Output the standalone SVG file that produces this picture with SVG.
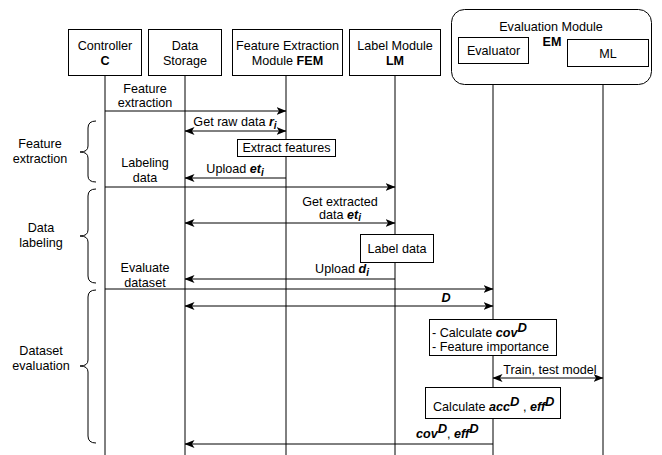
<svg xmlns="http://www.w3.org/2000/svg" width="662" height="455" viewBox="0 0 662 455">
  <style>
    text { font-family: "Liberation Sans", Arial, sans-serif; font-size: 12.6px; fill: #000; }
    .c { text-anchor: middle; }
    .b { font-weight: bold; }
    .bi { font-weight: bold; font-style: italic; }
    .sub { font-size: 10px; }
    .sup { font-size: 13px; }
    .box { fill: #fff; stroke: #000; stroke-width: 1; }
    .life { stroke: #000; stroke-width: 1; fill: none; }
    .msg { stroke: #000; stroke-width: 1; fill: none; }
    .one { marker-end: url(#arr); }
    .two { marker-start: url(#arr); marker-end: url(#arr); }
    .brace { stroke: #000; stroke-width: 1; fill: none; }
  </style>
  <defs>
    <marker id="arr" viewBox="0 0 10 8" refX="9.5" refY="4" markerWidth="10" markerHeight="8" markerUnits="userSpaceOnUse" orient="auto-start-reverse">
      <path d="M0,0 L10,4 L0,8 L2.5,4 z" fill="#000"/>
    </marker>
  </defs>

  <rect width="662" height="455" fill="#fff"/>

  <!-- lifelines -->
  <g id="lifelines">
    <line class="life" x1="105" y1="76" x2="105" y2="455"/>
    <line class="life" x1="185" y1="76" x2="185" y2="455"/>
    <line class="life" x1="286" y1="76" x2="286" y2="455"/>
    <line class="life" x1="395" y1="76" x2="395" y2="455"/>
    <line class="life" x1="493" y1="63" x2="493" y2="455"/>
    <line class="life" x1="603" y1="66" x2="603" y2="455"/>
  </g>

  <!-- participants -->
  <g id="controller">
    <rect class="box" x="68.5" y="29.5" width="73" height="46"/>
    <text class="c" x="105" y="50">Controller</text>
    <text class="c b" x="105" y="65">C</text>
  </g>
  <g id="data-storage">
    <rect class="box" x="148.5" y="29.5" width="73" height="46"/>
    <text class="c" x="185" y="50">Data</text>
    <text class="c" x="185" y="65">Storage</text>
  </g>
  <g id="fem">
    <rect class="box" x="232.5" y="29.5" width="110" height="46"/>
    <text class="c" x="287.5" y="50">Feature Extraction</text>
    <text class="c" x="287.5" y="65">Module <tspan class="b">FEM</tspan></text>
  </g>
  <g id="lm">
    <rect class="box" x="349.5" y="29.5" width="91" height="46"/>
    <text class="c" x="395" y="50">Label Module</text>
    <text class="c b" x="395" y="65">LM</text>
  </g>
  <g id="em">
    <rect class="box" x="451.5" y="9.5" width="200" height="75" rx="13" ry="13"/>
    <text class="c" x="551" y="31">Evaluation Module</text>
    <text class="c b" x="552" y="46">EM</text>
  </g>
  <g id="evaluator">
    <rect class="box" x="458.5" y="37.5" width="70" height="26"/>
    <text class="c" x="493.5" y="55">Evaluator</text>
  </g>
  <g id="ml">
    <rect class="box" x="567.5" y="39.5" width="81" height="27"/>
    <text class="c" x="608" y="58">ML</text>
  </g>

  <!-- phase braces -->
  <g id="phase-feature-extraction">
    <path class="brace" d="M96,121 Q88,121 88,128 L88,146 Q88,152 80,152 Q88,152 88,158 L88,176 Q88,182 96,182"/>
    <text class="c" x="40" y="148">Feature</text>
    <text class="c" x="40" y="163">extraction</text>
  </g>
  <g id="phase-data-labeling">
    <path class="brace" d="M96,189 Q88,189 88,196 L88,230 Q88,236 80,236 Q88,236 88,242 L88,276 Q88,283 96,283"/>
    <text class="c" x="41" y="232">Data</text>
    <text class="c" x="41" y="247">labeling</text>
  </g>
  <g id="phase-dataset-evaluation">
    <path class="brace" d="M96,290 Q88,290 88,297 L88,360 Q88,366 80,366 Q88,366 88,372 L88,436 Q88,443 96,443"/>
    <text class="c" x="41" y="355">Dataset</text>
    <text class="c" x="41" y="370">evaluation</text>
  </g>

  <!-- messages -->
  <g id="connectors">
    <line class="msg one" x1="105" y1="111" x2="286" y2="111"/>
    <line class="msg two" x1="185" y1="131" x2="286" y2="131"/>
    <line class="msg one" x1="286" y1="178" x2="185" y2="178"/>
    <line class="msg one" x1="105" y1="187" x2="395" y2="187"/>
    <line class="msg two" x1="185" y1="223" x2="395" y2="223"/>
    <line class="msg one" x1="395" y1="279" x2="185" y2="279"/>
    <line class="msg one" x1="105" y1="289" x2="493" y2="289"/>
    <line class="msg two" x1="185" y1="306" x2="493" y2="306"/>
    <line class="msg two" x1="493" y1="378" x2="603" y2="378"/>
    <line class="msg one" x1="493" y1="444" x2="185" y2="444"/>
  </g>

  <!-- message labels -->
  <g id="labels">
    <text class="c" x="145" y="93">Feature</text>
    <text class="c" x="145" y="107">extraction</text>
    <text class="c" x="235" y="126">Get raw data <tspan class="bi">r</tspan><tspan class="bi sub" dy="3">i</tspan></text>
    <text class="c" x="235" y="173">Upload <tspan class="bi">et</tspan><tspan class="bi sub" dy="3">i</tspan></text>
    <text class="c" x="145" y="167">Labeling</text>
    <text class="c" x="145" y="182">data</text>
    <text class="c" x="340" y="206">Get extracted</text>
    <text class="c" x="340" y="219">data <tspan class="bi">et</tspan><tspan class="bi sub" dy="2">i</tspan></text>
    <text class="c" x="342" y="273">Upload <tspan class="bi">d</tspan><tspan class="bi sub" dy="3">i</tspan></text>
    <text class="c" x="145" y="272">Evaluate</text>
    <text class="c" x="145" y="287">dataset</text>
    <text class="c bi" x="446" y="302">D</text>
    <text class="c" x="550" y="374">Train, test model</text>
    <text x="416" y="438"><tspan class="bi">cov</tspan><tspan class="bi sup" dy="-5">D</tspan><tspan dy="5">, </tspan><tspan class="bi">eff</tspan><tspan class="bi sup" dy="-5">D</tspan></text>
  </g>

  <!-- activities -->
  <g id="extract-features">
    <rect class="box" x="237.5" y="139.5" width="98" height="17"/>
    <text class="c" x="286.5" y="152">Extract features</text>
  </g>
  <g id="label-data">
    <rect class="box" x="360.5" y="234.5" width="73" height="28"/>
    <text class="c" x="397" y="253">Label data</text>
  </g>
  <g id="calc-cov">
    <rect class="box" x="429.5" y="319.5" width="127" height="36"/>
    <text x="432" y="337">- Calculate <tspan class="bi">cov</tspan><tspan class="bi sup" dy="-5">D</tspan></text>
    <text x="432" y="351">- Feature importance</text>
  </g>
  <g id="calc-acc">
    <rect class="box" x="425.5" y="387.5" width="135" height="31"/>
    <text x="433" y="411">Calculate <tspan class="bi">acc</tspan><tspan class="bi sup" dy="-5">D</tspan><tspan dy="5"> , </tspan><tspan class="bi">eff</tspan><tspan class="bi sup" dy="-5">D</tspan></text>
  </g>
</svg>
